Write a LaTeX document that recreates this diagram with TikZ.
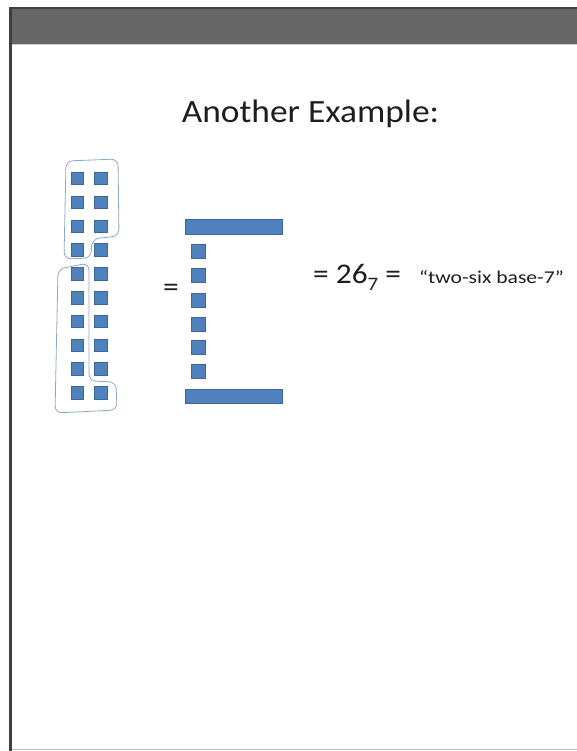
\documentclass[tikz,border=0pt]{standalone}
\usepackage{fontspec}
\setmainfont{Carlito}
\begin{document}
\begin{tikzpicture}[x=1pt,y=-1pt,
  sq/.style={draw=sqborder,fill=sqfill,line width=0.6pt,minimum size=12.5pt,inner sep=0pt,anchor=north west},
  smallsq/.style={draw=sqborder,fill=sqfill,line width=0.6pt,minimum width=14pt,minimum height=14pt,inner sep=0pt,anchor=north west},
  bar/.style={draw=sqborder,fill=sqfill,line width=0.6pt,minimum width=97pt,minimum height=14.5pt,inner sep=0pt,anchor=north west},
  loop/.style={draw=loopcol,line width=0.8pt,rounded corners=7pt},
  txt/.style={inner sep=0pt,text=textcol}]
\definecolor{sqfill}{HTML}{4F81BD}
\definecolor{sqborder}{HTML}{3A679C}
\definecolor{loopcol}{HTML}{8EA9C8}
\definecolor{textcol}{HTML}{1E1E1E}
\definecolor{band}{HTML}{666666}
\useasboundingbox (0,0) rectangle (577,751);
\fill[white] (0,0) rectangle (577,751);
% frame
\fill[band] (10,7) rectangle (577,44);
\draw[line width=2pt,color=black!75] (10,8) -- (577,8);
\draw[line width=1pt,color=black!20] (11,44.5) -- (577,44.5);
\draw[line width=1pt,color=black!25] (11,749.5) -- (577,749.5);
\draw[line width=3pt,color=black!75] (10,7) -- (10,751);
% title
\node[txt,font=\fontsize{32.5}{36}\selectfont,anchor=base] (title) at (310.5,123) {\scalebox{1.09}[1]{Another Example:}};
% left grid of squares
\foreach \r in {0,...,9}{
  \node[sq] (l\r) at (70.5,{172+23.8*\r}) {};
  \node[sq] (r\r) at (94,{172+23.8*\r}) {};
}
% group outlines
\draw[loop] (66,161) -- (118,159) -- (119,236) -- (92,239) -- (91,258) -- (64,259) -- cycle;
\draw[loop] (89,263) -- (89,381) -- (116,382) -- (117,410) -- (55,413) -- (58,269) -- cycle;
% equals
\node[txt,font=\fontsize{28.5}{32}\selectfont,anchor=base] (eq1) at (171,296) {\scalebox{1.1}[1]{=}};
% bars and small squares
\node[bar] (topbar) at (185,219) {};
\node[bar] (botbar) at (185,388.5) {};
\foreach \r/\y in {0/244,1/268,2/293,3/317,4/340,5/364}{
  \node[smallsq] (s\r) at (191,\y) {};
}
% result text
\node[txt,font=\fontsize{28.5}{32}\selectfont,anchor=base west] (res) at (313,283) {\scalebox{1.1}[1]{= 26\raisebox{-7pt}{\fontsize{19}{20}\selectfont 7} =}};
\node[txt,font=\fontsize{18}{20}\selectfont,anchor=base west] (words) at (419,283) {\scalebox{1.2}[1]{“two-six base-7”}};
\end{tikzpicture}
\end{document}
